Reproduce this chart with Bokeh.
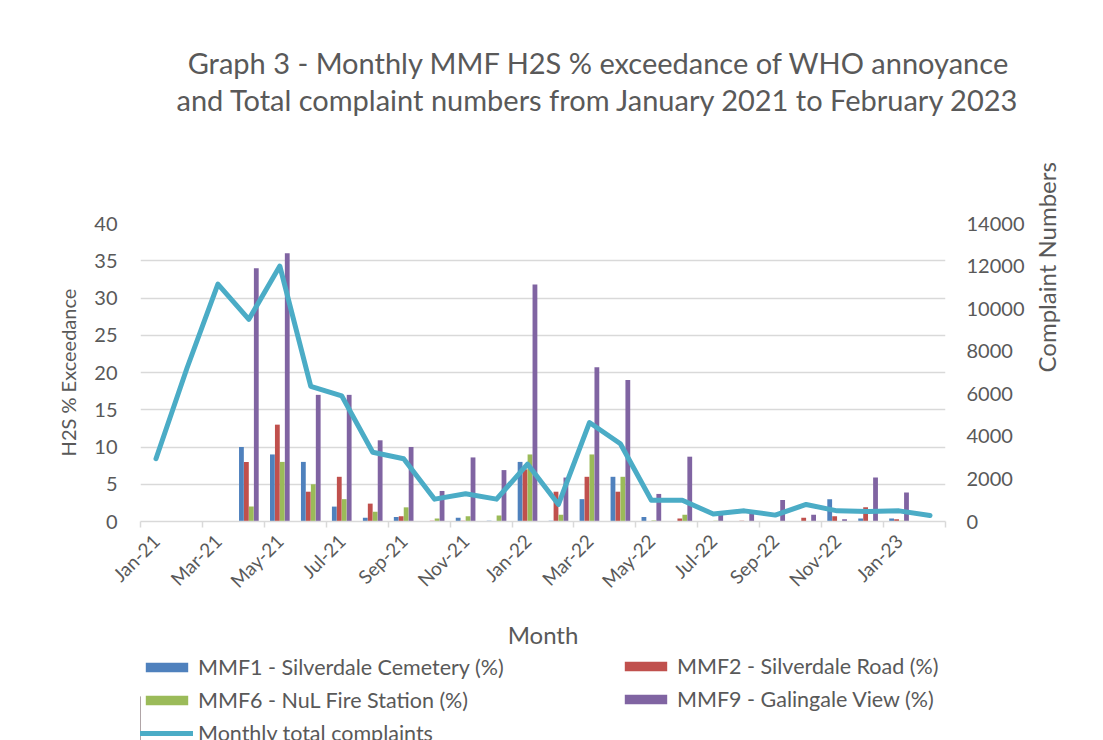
from bokeh.plotting import figure
from bokeh.layouts import column
from bokeh.models import (Range1d, LinearAxis, FixedTicker, Title,
                          ColumnDataSource, Legend, LegendItem)
from bokeh.transform import dodge
from bokeh.embed import file_html
from bokeh.resources import INLINE
import math

months = ["Jan-21", "Feb-21", "Mar-21", "Apr-21", "May-21", "Jun-21", "Jul-21", "Aug-21",
          "Sep-21", "Oct-21", "Nov-21", "Dec-21", "Jan-22", "Feb-22", "Mar-22", "Apr-22",
          "May-22", "Jun-22", "Jul-22", "Aug-22", "Sep-22", "Oct-22", "Nov-22", "Dec-22",
          "Jan-23", "Feb-23"]
mmf1 = [None, None, None, 10, 9, 8, 2, 0.5, 0.6, 0, 0.5, 0.1, 8, 0.1, 3, 6, 0.6, 0, 0, 0, 0, 0, 3, 0.4, 0.4, None]
mmf2 = [None, None, None, 8, 13, 4, 6, 2.4, 0.7, 0.1, 0.1, 0, 7, 4, 6, 4, 0, 0.4, 0, 0.1, 0, 0.5, 0.7, 1.9, 0.3, None]
mmf6 = [None, None, None, 2, 8, 5, 3, 1.3, 1.9, 0.4, 0.7, 0.8, 9, 0.9, 9, 6, 0.15, 0.9, 0.1, 0, 0, 0, 0, 0, 0.1, None]
mmf9 = [None, None, None, 34, 36, 17, 17, 10.9, 10, 4.1, 8.6, 6.9, 31.8, 5.9, 20.7, 19, 3.7, 8.7, 1, 1, 2.9, 0.9, 0.3, 5.9, 3.9, None]
complaints = [2950, 7200, 11150, 9500, 12000, 6350, 5900, 3250, 2950, 1050, 1300, 1050, 2700, 800,
              4650, 3650, 1000, 1000, 350, 500, 300, 800, 500, 470, 500, 280]

series_names = ["MMF1 - Silverdale Cemetery (%)", "MMF2 - Silverdale Road (%)",
                "MMF6 - NuL Fire Station (%)", "MMF9 - Galingale View (%)"]
line_name = "Monthly total complaints"
title_lines = ["Graph 3 - Monthly MMF H2S % exceedance of WHO annoyance",
               "and Total complaint numbers from January 2021 to February 2023"]
left_ticks = [0, 5, 10, 15, 20, 25, 30, 35, 40]
right_ticks = [0, 2000, 4000, 6000, 8000, 10000, 12000, 14000]

FONT = "Lato"
TXT = "#595959"
GRID = "#d9d9d9"
colors = ["#4F81BD", "#C0504D", "#9BBB59", "#8064A2"]
line_color = "#4BACC6"

n = len(months)
xpos = [i + 0.5 for i in range(n)]  # category centres on a 0..n axis
src = ColumnDataSource(dict(x=xpos, month=months, m1=mmf1, m2=mmf2, m6=mmf6, m9=mmf9, c=complaints))

W = 1103
TH, MH, LH = 140, 512, 88
BL, BR = 140, W - 945


def bare(fig):
    fig.outline_line_color = None
    fig.xgrid.visible = False
    fig.ygrid.visible = False
    fig.background_fill_color = "white"
    fig.border_fill_color = "white"


# ---- title strip ----
pt = figure(width=W, height=TH, x_range=Range1d(0, 1), y_range=Range1d(0, 1),
            output_backend="svg", toolbar_location=None, x_axis_location=None,
            y_axis_location=None, min_border_left=BL, min_border_right=BR,
            min_border_top=116, min_border_bottom=0)
bare(pt)
t2 = Title(text=title_lines[1], align="right", offset=-75, standoff=0,
           text_font=FONT, text_font_size="29px", text_font_style="normal", text_color=TXT)
t1 = Title(text=title_lines[0], align="right", offset=-65, standoff=0,
           text_font=FONT, text_font_size="29px", text_font_style="normal", text_color=TXT)
pt.above = [t2, t1]

# ---- main chart ----
p = figure(width=W, height=MH, x_range=Range1d(0, n), y_range=Range1d(0, 40),
           output_backend="svg", toolbar_location=None,
           x_axis_location=None, y_axis_location=None,
           min_border_left=BL, min_border_right=BR, min_border_top=223 - TH,
           min_border_bottom=MH - (523 - TH))
bare(p)
p.extra_y_ranges = {"c": Range1d(0, 14000)}
p.ygrid.visible = True
p.ygrid.ticker = FixedTicker(ticks=left_ticks)
p.ygrid.grid_line_color = GRID
p.ygrid.grid_line_width = 1.5


def style_text(ax, size, label_size):
    ax.major_label_text_font = FONT
    ax.major_label_text_font_size = size
    ax.major_label_text_color = TXT
    ax.axis_label_text_font = FONT
    ax.axis_label_text_font_size = label_size
    ax.axis_label_text_font_style = "normal"
    ax.axis_label_text_color = TXT


yl = LinearAxis(ticker=FixedTicker(ticks=left_ticks), axis_label="H2S % Exceedance")
yl.axis_line_color = None
yl.major_tick_line_color = None
yl.minor_tick_line_color = None
style_text(yl, "20px", "20px")
yl.major_label_standoff = 17
yl.axis_label_standoff = 11
p.add_layout(yl, "left")

yr = LinearAxis(y_range_name="c", ticker=FixedTicker(ticks=right_ticks), axis_label="Complaint Numbers")
yr.axis_line_color = None
yr.major_tick_line_color = None
yr.minor_tick_line_color = None
style_text(yr, "20px", "24px")
yr.major_label_standoff = 15
yr.axis_label_standoff = 19
if "axis_label_orientation" in yr.properties():
    yr.axis_label_orientation = math.pi / 2
    yr.axis_label_text_align = "center"
p.add_layout(yr, "right")

xt = LinearAxis(ticker=FixedTicker(ticks=list(range(0, n + 1, 2))))
xt.axis_line_color = GRID
xt.axis_line_width = 1.5
xt.major_tick_line_color = GRID
xt.major_tick_line_width = 1.5
xt.major_tick_out = 6
xt.major_tick_in = 0
xt.minor_tick_line_color = None
xt.major_label_text_font_size = "0px"
xt.major_label_standoff = 0

xc = LinearAxis(ticker=FixedTicker(ticks=xpos[0::2]), axis_label="Month")
xc.axis_line_color = None
xc.major_tick_line_color = None
xc.minor_tick_line_color = None
style_text(xc, "19px", "24px")
xc.major_label_orientation = math.pi / 4
xc.major_label_standoff = 4
xc.axis_label_standoff = 17
xc.major_label_overrides = {xv: m for xv, m in zip(xpos[0::2], months[0::2])}
p.below = [xt, xc]

offs = [-0.24, -0.08, 0.08, 0.24]
cols = ["m1", "m2", "m6", "m9"]
for c, o, col in zip(cols, offs, colors):
    p.vbar(x=dodge("x", o), top=c, width=0.155, source=src, fill_color=col, line_color=None)

p.line(x="x", y="c", source=src, y_range_name="c", line_color=line_color,
       line_width=5, line_join="round", line_cap="round")

# ---- legend strip (legend keys only; their glyphs sit outside the visible range) ----
pl = figure(width=W, height=LH, x_range=Range1d(0, 1), y_range=Range1d(0, 1),
            output_backend="svg", toolbar_location=None, x_axis_location=None,
            y_axis_location=None, min_border_left=BL, min_border_right=BR,
            min_border_top=0, min_border_bottom=0)
bare(pl)
keys = [pl.vbar(x=[-5], top=[0.5], width=0.1, fill_color=col, line_color=None) for col in colors]
kl = pl.line(x=[-6, -5], y=[0.5, 0.5], line_color=line_color, line_width=5, line_cap="round")

leg1 = Legend(items=[LegendItem(label=series_names[0], renderers=[keys[0]]),
                     LegendItem(label=series_names[2], renderers=[keys[2]]),
                     LegendItem(label=line_name, renderers=[kl])],
              location=(0, -6))
leg2 = Legend(items=[LegendItem(label=series_names[1], renderers=[keys[1]]),
                     LegendItem(label=series_names[3], renderers=[keys[3]])],
              location=(479, 28))
for lg in (leg1, leg2):
    lg.glyph_width = 53
    lg.glyph_height = 12
    lg.label_height = 27
    lg.label_standoff = 5
    lg.spacing = 6
    lg.padding = 0
    lg.margin = 0
    lg.border_line_color = None
    lg.background_fill_alpha = 0
    lg.label_text_font = FONT
    lg.label_text_font_size = "21.5px"
    lg.label_text_color = TXT
    pl.add_layout(lg, "center")

layout = column(pt, p, pl, spacing=0)
open("out.html", "w").write(file_html(layout, INLINE))
